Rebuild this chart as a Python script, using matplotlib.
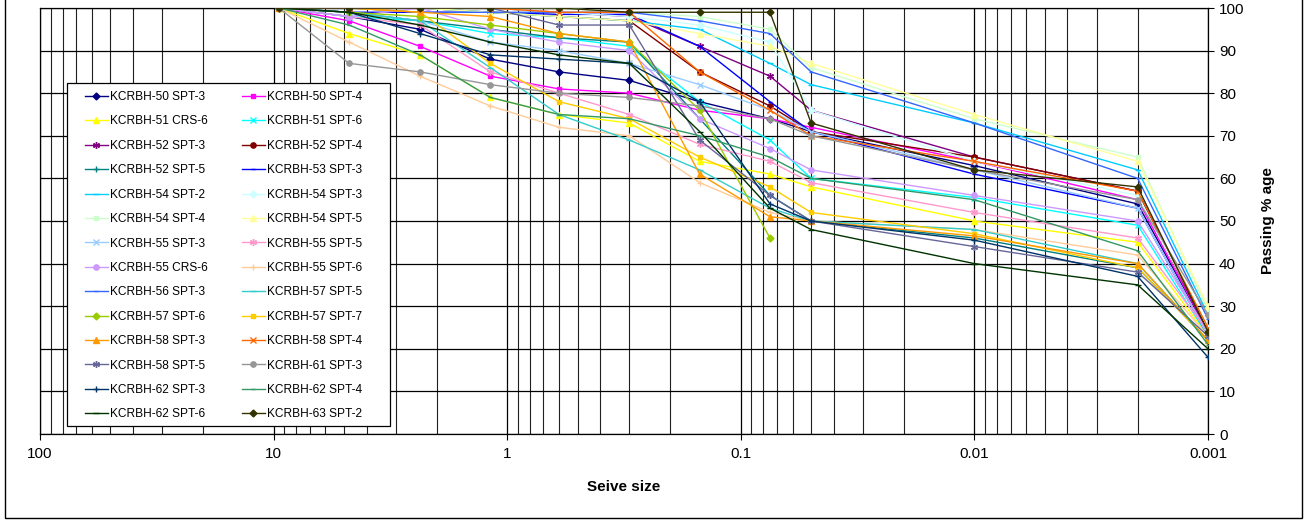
import numpy as np
import matplotlib
matplotlib.use("Agg")
import matplotlib.pyplot as plt
from matplotlib.ticker import LogLocator, FixedLocator, FixedFormatter, NullFormatter
from matplotlib.patches import Rectangle

plt.rcParams['font.family'] = ['Liberation Sans', 'DejaVu Sans']

# sieve / hydrometer sizes (mm)
sizes = [9.5, 4.75, 2.36, 1.18, 0.6, 0.3, 0.15, 0.075, 0.05, 0.01, 0.002, 0.001]

labels = ['KCRBH-50 SPT-3', 'KCRBH-50 SPT-4', 'KCRBH-51 CRS-6', 'KCRBH-51 SPT-6',
          'KCRBH-52 SPT-3', 'KCRBH-52 SPT-4', 'KCRBH-52 SPT-5', 'KCRBH-53 SPT-3',
          'KCRBH-54 SPT-2', 'KCRBH-54 SPT-3', 'KCRBH-54 SPT-4', 'KCRBH-54 SPT-5',
          'KCRBH-55 SPT-3', 'KCRBH-55 SPT-5', 'KCRBH-55 CRS-6', 'KCRBH-55 SPT-6',
          'KCRBH-56 SPT-3', 'KCRBH-57 SPT-5', 'KCRBH-57 SPT-6', 'KCRBH-57 SPT-7',
          'KCRBH-58 SPT-3', 'KCRBH-58 SPT-4', 'KCRBH-58 SPT-5', 'KCRBH-61 SPT-3',
          'KCRBH-62 SPT-3', 'KCRBH-62 SPT-4', 'KCRBH-62 SPT-6', 'KCRBH-63 SPT-2']

# passing % for each sample, same order as labels
passing = [
    [100, 98, 95, 88, 85, 83, 78, 74, 71, 63, 54, 24],
    [100, 97, 91, 84, 81, 80, 76, 74, 72, 64, 55, 24],
    [100, 94, 89, 79, 75, 73, 64, 61, 58, 50, 45, 23],
    [100, 98, 97, 94, 93, 91, 78, 69, 60, 55.5, 49, 23],
    [100, 100, 100, 100, 99, 98, 91, 84, 76, 65, 57, 24],
    [100, 100, 100, 99, 98, 97, 85, 77, 71, 65, 57, 24],
    [100, 99, 97, 95, 93, 92, 74, 56, 50, 46, 39, 22],
    [100, 99, 99, 99, 98.5, 98.5, 91, 78, 71, 61, 53, 23],
    [100, 100, 100, 99, 98, 97, 95, 87, 82, 73, 62, 28],
    [100, 100, 100, 100, 99, 98, 96, 92, 76, 64, 56, 25],
    [100, 100, 100, 100, 100, 99, 98, 95, 86, 74, 65, 29],
    [100, 100, 100, 99, 98, 97, 94, 91, 87, 75, 64, 30],
    [100, 99, 97, 92, 90, 87, 82, 76, 71, 62, 53, 23],
    [100, 98, 96, 85, 80, 75, 68, 64, 59, 52, 46, 24],
    [100, 98, 100, 95, 92, 90, 74, 67, 62, 56, 50, 24],
    [100, 92, 84, 77, 72, 70, 59, 52, 50, 48, 42, 23],
    [100, 100, 99, 99, 99, 99, 97, 94, 85, 73, 60, 27],
    [100, 99, 97, 86, 75, 69, 62, 53, 50, 48, 40, 22],
    [100, 99, 98, 96, 94, 92, 76, 46],
    [100, 100, 99, 87, 78, 74, 65, 58, 52, 47, 39, 22],
    [100, 100, 99, 98, 94, 92, 61, 51, 50, 46.5, 40, 22],
    [100, 100, 100, 100, 99, 99, 85, 76, 70, 64, 57, 25],
    [100, 100, 100, 100, 96, 96, 69, 56, 50, 44, 38, 23],
    [100, 87, 85, 82, 80, 79, 77, 74, 70, 62, 55, 28],
    [100, 99, 94, 89, 88, 87, 78, 54, 50, 45.5, 37, 18],
    [100, 96, 89, 79, 75, 74, 70, 65, 60, 55, 43, 21],
    [100, 99, 96, 92, 89, 87, 71, 53, 48, 40, 35, 20],
    [100, 100, 100, 100, 100, 99, 99, 99, 73, 62, 58, 24],
]

# excel 2003 default series colours
colors = ['#000080', '#FF00FF', '#FFFF00', '#00FFFF', '#800080', '#800000', '#008080',
          '#0000FF', '#00CCFF', '#CCFFFF', '#CCFFCC', '#FFFF99', '#99CCFF', '#FF99CC',
          '#CC99FF', '#FFCC99', '#3366FF', '#33CCCC', '#99CC00', '#FFCC00', '#FF9900',
          '#FF6600', '#666699', '#969696', '#003366', '#339966', '#003300', '#333300']
star = (6, 2, 0)
mcycle = ['D', 's', '^', 'x', star, 'o', '+', '_', '_']
msizes = [3.5, 3.5, 4.5, 4.5, 5, 3.8, 5, 3.5, 5]

W, H = 1308, 523
fig = plt.figure(figsize=(W/100, H/100), dpi=100)
ax = fig.add_axes([40/W, 1 - 434/H, 1168/W, 426/H])

handles = []
for i, (lab, vals) in enumerate(zip(labels, passing)):
    ln, = ax.plot(sizes[:len(vals)], vals, color=colors[i], lw=1.0,
                  marker=mcycle[i % 9], ms=msizes[i % 9], mew=1.0,
                  mfc=colors[i], mec=colors[i], label=lab, zorder=3)
    handles.append(ln)

ax.set_xscale('log')
ax.set_xlim(100, 0.001)
ax.set_ylim(0, 100)

ax.xaxis.set_major_locator(FixedLocator([100, 10, 1, 0.1, 0.01, 0.001]))
ax.xaxis.set_major_formatter(FixedFormatter(['100', '10', '1', '0.1', '0.01', '0.001']))
ax.xaxis.set_minor_locator(LogLocator(base=10, subs=np.arange(2, 10)))
ax.xaxis.set_minor_formatter(NullFormatter())
ax.set_yticks(np.arange(0, 101, 10))

ax.yaxis.tick_right()
ax.yaxis.set_label_position('right')
ax.tick_params(axis='both', which='major', direction='out', length=4, width=0.8,
               labelsize=11, colors='black')
ax.tick_params(axis='x', which='minor', length=0)
ax.tick_params(axis='x', which='major', pad=5)
ax.tick_params(axis='y', which='major', pad=4)

ax.grid(which='major', color='black', lw=0.9, zorder=0)
ax.grid(which='minor', axis='x', color='#202020', lw=0.8, zorder=0)
for sp in ax.spines.values():
    sp.set_color('black')
    sp.set_linewidth(0.9)

ax.set_xlabel('Seive size', fontsize=11, fontweight='bold', labelpad=14)
ax.set_ylabel('Passing % age', fontsize=11, fontweight='bold', labelpad=12)

# legend box (drawn separately so padding matches excel)
ax.add_patch(Rectangle((67/W, 1 - 426/H), 323/W, 343/H, transform=fig.transFigure,
                       facecolor='white', edgecolor='black', lw=0.9, zorder=4))
# excel fills the legend row by row
order = list(range(0, 28, 2)) + list(range(1, 28, 2))
leg = ax.legend([handles[k] for k in order], [labels[k] for k in order],
                loc='upper left', bbox_to_anchor=(85/W, 1 - 91/H),
                bbox_transform=fig.transFigure, ncol=2,
                fontsize=8.6, frameon=False, borderaxespad=0, borderpad=0,
                labelspacing=1.04, handlelength=1.9, handletextpad=0.2,
                columnspacing=2.85)
leg.set_zorder(5)

# outer chart border
fig.patches.append(Rectangle((5/W, 5/H), 1297/W, 530/H, transform=fig.transFigure,
                             fill=False, edgecolor='black', lw=1.0, clip_on=False))

fig.savefig('out.png', dpi=100)
